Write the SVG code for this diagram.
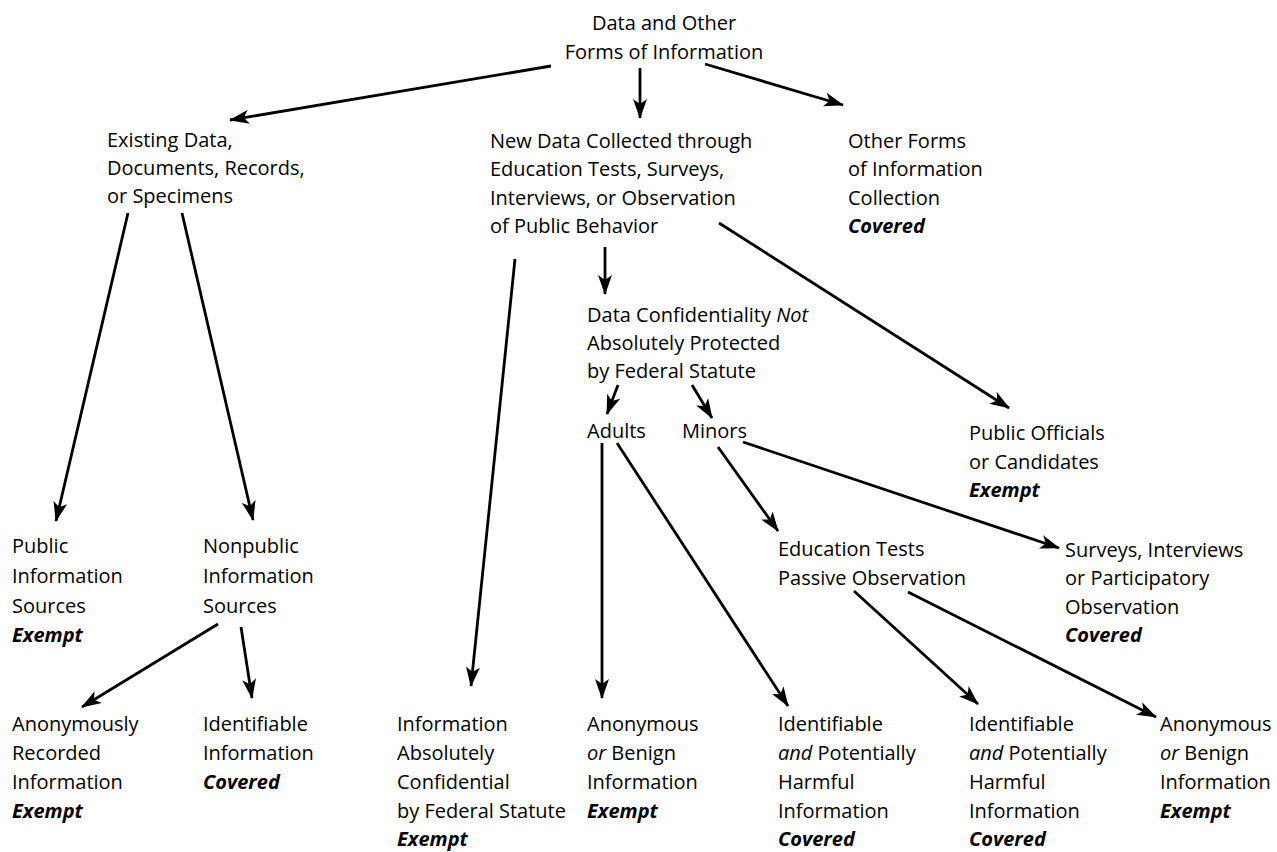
<svg xmlns="http://www.w3.org/2000/svg" width="1277" height="852" viewBox="0 0 1277 852">
<defs>
<style>
text{font-family:"Open Sans","Noto Sans","Liberation Sans",sans-serif;font-size:20px;fill:#000}
.b{font-weight:bold;font-style:italic}
.i{font-style:italic}
.c line{stroke:#000;stroke-width:2.8;marker-end:url(#ah)}
</style>
<marker id="ah" viewBox="0 0 20 14" refX="19" refY="7" markerWidth="20" markerHeight="14" markerUnits="userSpaceOnUse" orient="auto">
<path d="M0,0 L20,7 L0,14 L5,7 Z" fill="#000"/>
</marker>
</defs>
<rect width="1277" height="852" fill="#fff"/>
<g id="connectors" class="c">
<line x1="551" y1="66" x2="230" y2="120"/>
<line x1="640" y1="68" x2="640" y2="118"/>
<line x1="705" y1="64" x2="843" y2="105"/>
<line x1="515" y1="259" x2="471" y2="686"/>
<line x1="605" y1="247" x2="605" y2="294"/>
<line x1="719" y1="223" x2="1009" y2="408"/>
<line x1="618" y1="385" x2="607" y2="414"/>
<line x1="692" y1="385" x2="712" y2="418"/>
<line x1="128" y1="213" x2="56" y2="521"/>
<line x1="182" y1="213" x2="253" y2="520"/>
<line x1="218" y1="624" x2="82" y2="707"/>
<line x1="241" y1="627" x2="252" y2="698"/>
<line x1="602" y1="443" x2="602" y2="698"/>
<line x1="617" y1="443" x2="788" y2="706"/>
<line x1="718" y1="447" x2="778" y2="531"/>
<line x1="743" y1="442" x2="1059" y2="548"/>
<line x1="854" y1="591" x2="978" y2="704"/>
<line x1="908" y1="592" x2="1156" y2="717"/>
</g>
<g id="root"><text x="664" y="30" text-anchor="middle">Data and Other</text><text x="664" y="59" text-anchor="middle">Forms of Information</text></g>
<g id="existing"><text x="107" y="147">Existing Data,</text><text x="107" y="175">Documents, Records,</text><text x="107" y="203">or Specimens</text></g>
<g id="newdata"><text x="490" y="148">New Data Collected through</text><text x="490" y="176">Education Tests, Surveys,</text><text x="490" y="205">Interviews, or Observation</text><text x="490" y="233">of Public Behavior</text></g>
<g id="otherforms"><text x="848" y="148">Other Forms</text><text x="848" y="176">of Information</text><text x="848" y="205">Collection</text><text x="848" y="233" class="b">Covered</text></g>
<g id="dataconf"><text x="587" y="322">Data Confidentiality <tspan class="i">Not</tspan></text><text x="587" y="350">Absolutely Protected</text><text x="587" y="378">by Federal Statute</text></g>
<g id="adults"><text x="587" y="438">Adults</text></g>
<g id="minors"><text x="682" y="438">Minors</text></g>
<g id="officials"><text x="969" y="440">Public Officials</text><text x="969" y="469">or Candidates</text><text x="969" y="497" class="b">Exempt</text></g>
<g id="public"><text x="12" y="553">Public</text><text x="12" y="583">Information</text><text x="12" y="613">Sources</text><text x="12" y="642" class="b">Exempt</text></g>
<g id="nonpublic"><text x="203" y="553">Nonpublic</text><text x="203" y="583">Information</text><text x="203" y="613">Sources</text></g>
<g id="edtests"><text x="778" y="556">Education Tests</text><text x="778" y="585">Passive Observation</text></g>
<g id="surveys"><text x="1065" y="557">Surveys, Interviews</text><text x="1065" y="585">or Participatory</text><text x="1065" y="614">Observation</text><text x="1065" y="642" class="b">Covered</text></g>
<g id="anonrec"><text x="12" y="731">Anonymously</text><text x="12" y="760">Recorded</text><text x="12" y="789">Information</text><text x="12" y="818" class="b">Exempt</text></g>
<g id="identinfo"><text x="203" y="731">Identifiable</text><text x="203" y="760">Information</text><text x="203" y="789" class="b">Covered</text></g>
<g id="absconf"><text x="397" y="731">Information</text><text x="397" y="760">Absolutely</text><text x="397" y="789">Confidential</text><text x="397" y="818">by Federal Statute</text><text x="397" y="846" class="b">Exempt</text></g>
<g id="anonadult"><text x="587" y="731">Anonymous</text><text x="587" y="760"><tspan class="i">or</tspan> Benign</text><text x="587" y="789">Information</text><text x="587" y="818" class="b">Exempt</text></g>
<g id="identadult"><text x="778" y="731">Identifiable</text><text x="778" y="760"><tspan class="i">and</tspan> Potentially</text><text x="778" y="789">Harmful</text><text x="778" y="818">Information</text><text x="778" y="846" class="b">Covered</text></g>
<g id="identminor"><text x="969" y="731">Identifiable</text><text x="969" y="760"><tspan class="i">and</tspan> Potentially</text><text x="969" y="789">Harmful</text><text x="969" y="818">Information</text><text x="969" y="846" class="b">Covered</text></g>
<g id="anonminor"><text x="1160" y="731">Anonymous</text><text x="1160" y="760"><tspan class="i">or</tspan> Benign</text><text x="1160" y="789">Information</text><text x="1160" y="818" class="b">Exempt</text></g>
</svg>
